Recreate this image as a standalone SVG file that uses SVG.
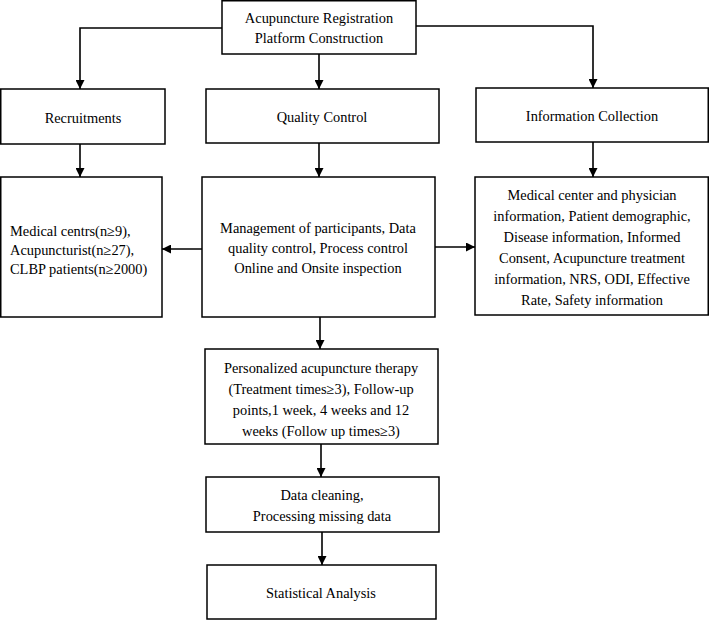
<svg xmlns="http://www.w3.org/2000/svg" width="709" height="620" viewBox="0 0 709 620">
<style>
.b{fill:#fff;stroke:#000;stroke-width:1.5}
.t{font-family:"Liberation Serif","Times New Roman",serif;font-size:14.4px;fill:#000;text-anchor:middle;dominant-baseline:central}
.c{fill:none;stroke:#000;stroke-width:1.6}
</style>
<defs>
<marker id="ah" viewBox="0 0 10 10" refX="10" refY="5" markerWidth="9" markerHeight="9" markerUnits="userSpaceOnUse" orient="auto">
<path d="M0,0 L10,5 L0,10 Z" fill="#000"/>
</marker>
</defs>
<rect width="709" height="620" fill="#fff"/>
<g id="connectors">
<path class="c" d="M222,28 H80 V89" marker-end="url(#ah)"/>
<path class="c" d="M319,54 V89" marker-end="url(#ah)"/>
<path class="c" d="M416,26 H593 V88" marker-end="url(#ah)"/>
<path class="c" d="M80,144 V177" marker-end="url(#ah)"/>
<path class="c" d="M319,143 V177" marker-end="url(#ah)"/>
<path class="c" d="M593,142 V177" marker-end="url(#ah)"/>
<path class="c" d="M202,249 H162" marker-end="url(#ah)"/>
<path class="c" d="M435,247 H475" marker-end="url(#ah)"/>
<path class="c" d="M320,317 V349" marker-end="url(#ah)"/>
<path class="c" d="M321,444 V477" marker-end="url(#ah)"/>
<path class="c" d="M322,532 V565" marker-end="url(#ah)"/>
</g>
<g id="n-top">
<rect class="b" x="222" y="0.75" width="194" height="53.25"/>
<text class="t" x="319" y="18">Acupuncture Registration</text>
<text class="t" x="319" y="38">Platform Construction</text>
</g>
<g id="n-recruit">
<rect class="b" x="0.75" y="89" width="164.25" height="55"/>
<text class="t" x="83" y="118">Recruitments</text>
</g>
<g id="n-qc">
<rect class="b" x="206" y="89" width="233" height="54"/>
<text class="t" x="322" y="117">Quality Control</text>
</g>
<g id="n-info">
<rect class="b" x="476" y="88" width="232.25" height="54"/>
<text class="t" x="592" y="116">Information Collection</text>
</g>
<g id="n-recruit-detail">
<rect class="b" x="0.75" y="177" width="161.25" height="140"/>
<text class="t" x="10" y="231" style="text-anchor:start">Medical centrs(n≥9),</text>
<text class="t" x="10" y="250" style="text-anchor:start">Acupuncturist(n≥27),</text>
<text class="t" x="10" y="269" style="text-anchor:start">CLBP patients(n≥2000)</text>
</g>
<g id="n-qc-detail">
<rect class="b" x="202" y="177" width="233" height="140"/>
<text class="t" x="318" y="228">Management of participants, Data</text>
<text class="t" x="318" y="248">quality control, Process control</text>
<text class="t" x="318" y="268">Online and Onsite inspection</text>
</g>
<g id="n-info-detail">
<rect class="b" x="475" y="177" width="233.25" height="138"/>
<text class="t" x="592" y="195">Medical center and physician</text>
<text class="t" x="592" y="216">information, Patient demographic,</text>
<text class="t" x="592" y="237">Disease information, Informed</text>
<text class="t" x="592" y="258">Consent, Acupuncture treatment</text>
<text class="t" x="592" y="279">information, NRS, ODI, Effective</text>
<text class="t" x="592" y="300">Rate, Safety information</text>
</g>
<g id="n-therapy">
<rect class="b" x="205" y="349" width="233" height="95"/>
<text class="t" x="321" y="368">Personalized acupuncture therapy</text>
<text class="t" x="321" y="389">(Treatment times≥3), Follow-up</text>
<text class="t" x="321" y="410">points,1 week, 4 weeks and 12</text>
<text class="t" x="321" y="431">weeks (Follow up times≥3)</text>
</g>
<g id="n-cleaning">
<rect class="b" x="206" y="477" width="233" height="55"/>
<text class="t" x="322" y="495">Data cleaning,</text>
<text class="t" x="322" y="516">Processing missing data</text>
</g>
<g id="n-stats">
<rect class="b" x="207" y="565" width="229" height="54"/>
<text class="t" x="321" y="593">Statistical Analysis</text>
</g>
</svg>
